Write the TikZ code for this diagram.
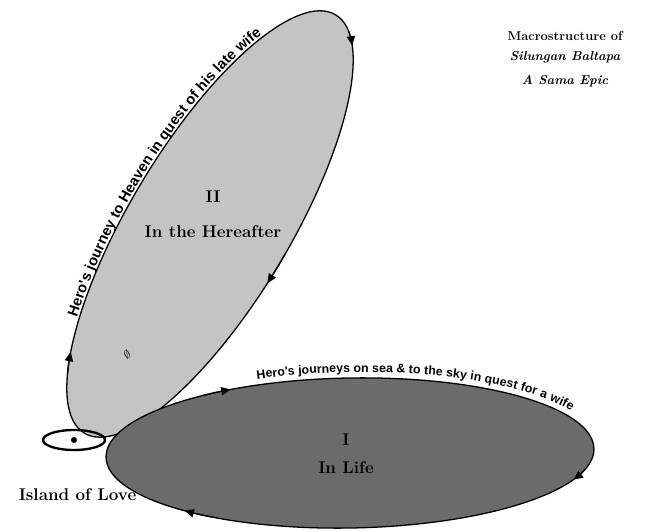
\documentclass[tikz,border=0pt]{standalone}
\usepackage{fontspec}
\newfontfamily\pathfont{Liberation Sans}
\usepackage{tikz}
\usetikzlibrary{positioning}
\usetikzlibrary{arrows.meta}
\usetikzlibrary{decorations.text}
\usetikzlibrary{shapes.geometric}

\definecolor{heaven}{gray}{0.77}
\definecolor{earth}{gray}{0.42}

\tikzset{
    realm/.style={draw=black, line width=1.1pt},
    flowtip/.style={line width=1.1pt, -{Triangle[length=8pt,width=7pt]}},
    heading/.style={font=\bfseries\fontsize{14.5}{17}\selectfont, inner sep=0pt},
    caption/.style={font=\bfseries\fontsize{11}{13}\selectfont, inner sep=0pt},
    islet/.style={draw=black, line width=2pt, ellipse, minimum width=1.86cm, minimum height=0.6cm, inner sep=0pt},
}

\begin{document}
\begin{tikzpicture}[x=0.03cm, y=0.03cm]
    \useasboundingbox (0,0) rectangle (652,531);

    % II -- in the hereafter
    \begin{scope}[shift={(210,307)}, rotate=59]
        \draw[realm, fill=heaven] (0,0) ellipse [x radius=244, y radius=80];
        \foreach \t in {338,265,138}
            \draw[flowtip] (\t+8:244 and 80) arc[start angle=\t+8, end angle=\t, x radius=244, y radius=80];
        \path[decorate, decoration={text along path, text align=center, raise=2pt,
            text={|\pathfont\bfseries\fontsize{12.5}{14}\selectfont|Hero's journey to Heaven in quest of his late wife}}]
            (127:244 and 80) arc[start angle=127, end angle=40, x radius=244, y radius=80];
    \end{scope}

    % I -- in life
    \begin{scope}[shift={(350,78)}, rotate=1]
        \draw[realm, fill=earth] (0,0) ellipse [x radius=244, y radius=75];
        \foreach \t in {119,336,227}
            \draw[flowtip] (\t+8:244 and 75) arc[start angle=\t+8, end angle=\t, x radius=244, y radius=75];
        \path[decorate, decoration={text along path, text align=center, raise=5pt,
            text={|\pathfont\bfseries\fontsize{10.5}{12}\selectfont|Hero's journeys on sea {\&} to the sky in quest for a wife}}]
            (112:244 and 75) arc[start angle=112, end angle=26, x radius=244, y radius=75];
    \end{scope}

    \node[heading] (hereafter) at (213,299) {In the Hereafter};
    \node[heading, above=19.7pt of hereafter] (two) {II};
    \node[rotate=25] (nought) at (127,176) {$\emptyset$};

    \node[heading] (life) at (346,63) {In Life};
    \node[heading, above=14pt of life] (one) {I};

    \node[islet] (island) at (74,91) {};
    \fill (island.center) circle (3);
    \node[heading, below=32pt of island, xshift=3pt] (islandlabel) {Island of Love};

    \node[caption] (title) at (565,495) {Macrostructure of};
    \node[caption, below=9.2pt of title, font=\bfseries\itshape\fontsize{11}{13}\selectfont] (epic) {Silungan Baltapa};
    \node[caption, below=9.8pt of epic, font=\bfseries\itshape\fontsize{11}{13}\selectfont] (sama) {A Sama Epic};
\end{tikzpicture}
\end{document}
